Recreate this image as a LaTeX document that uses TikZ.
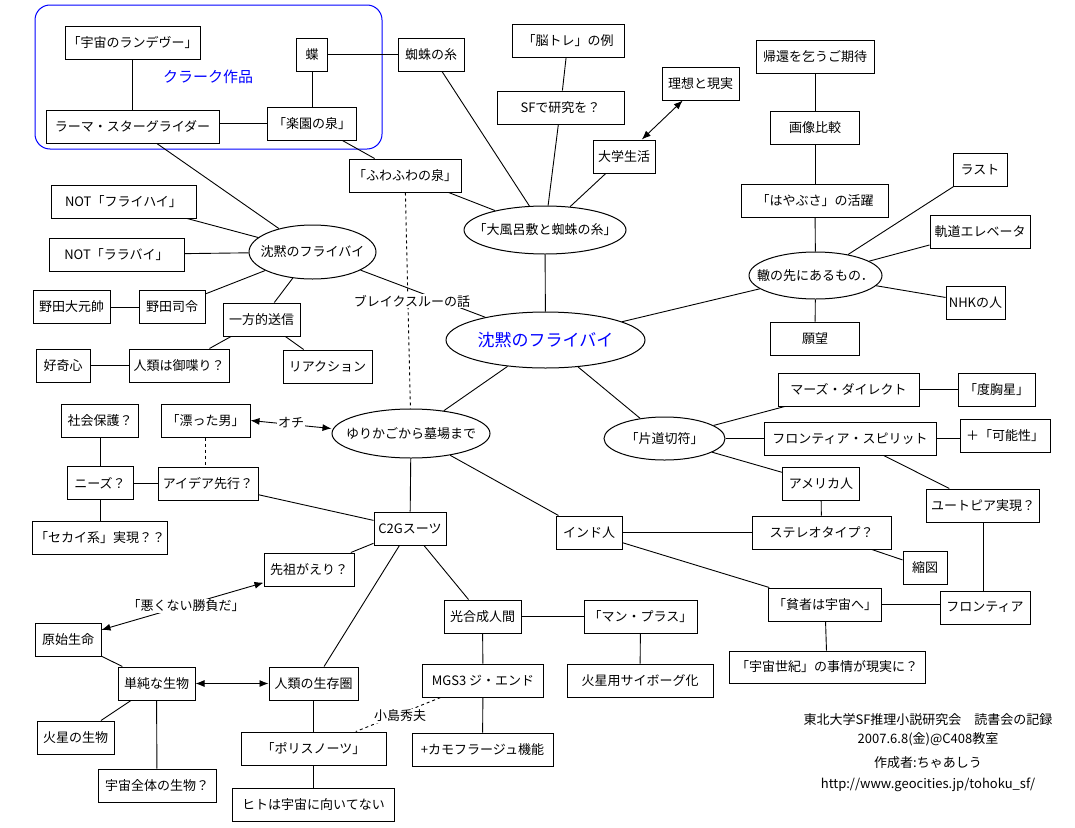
\documentclass[tikz,border=0pt]{standalone}
\usepackage{fontspec}
\setmainfont{Noto Sans CJK JP}
\usetikzlibrary{shapes.geometric,arrows.meta}
\newcommand\ovaltxt[1]{\makebox[0pt]{#1}}
\definecolor{pureblue}{RGB}{0,0,255}
\begin{document}
\begin{tikzpicture}[x=1pt,y=-1pt,
  every node/.style={font=\fontsize{13pt}{15pt}\selectfont, inner sep=0pt},
  box/.style={draw, line width=1pt, rectangle, minimum height=33pt},
  oval/.style={draw, line width=1pt, ellipse},
  conn/.style={line width=0.9pt},
  dashconn/.style={line width=0.9pt, dash pattern=on 3pt off 3pt},
  dbl/.style={line width=0.9pt, {Latex[length=9pt,width=7pt]}-{Latex[length=9pt,width=7pt]}},
  lbl/.style={fill=white, inner sep=1pt},
  foot/.style={font=\fontsize{13pt}{15pt}\selectfont},
]
\fill[white] (0,0) rectangle (1075,827);
\useasboundingbox (0,0) rectangle (1075,827);

% Clarke group
\node[draw=pureblue, line width=1pt, rounded corners=15pt, minimum width=347pt, minimum height=144pt] (clarke) at (208.5,77) {};
\node[text=pureblue, font=\fontsize{15pt}{17pt}\selectfont] (clarkelbl) at (208,77) {クラーク作品};

% boxes
\node[box, minimum width=135pt] (uchu) at (132.5,42.5) {「宇宙のランデヴー」};
\node[box, minimum width=173pt] (rama) at (132.5,126.5) {ラーマ・スターグライダー};
\node[box, minimum width=89pt] (rakuen) at (312,123.5) {「楽園の泉」};
\node[box, minimum width=31pt] (chou) at (312,54.5) {蝶};
\node[box, minimum width=66pt] (kumo) at (431,54.5) {蜘蛛の糸};
\node[box, minimum width=112pt] (fuwa) at (405,175.5) {「ふわふわの泉」};
\node[box, minimum width=145pt] (notfh) at (123.5,201.5) {NOT「フライハイ」};
\node[box, minimum width=135pt] (notll) at (116.5,254.5) {NOT「ララバイ」};
\node[box, minimum width=66pt] (nodas) at (172,307) {野田司令};
\node[box, minimum width=77pt] (nodag) at (71.5,307) {野田大元帥};
\node[box, minimum width=77pt] (ippou) at (261.5,319.5) {一方的送信};
\node[box, minimum width=100pt] (jinrui) at (179,365.5) {人類は御喋り？};
\node[box, minimum width=54pt] (kouki) at (63,365.5) {好奇心};
\node[box, minimum width=89pt] (react) at (327.5,366.5) {リアクション};
\node[box, minimum width=112pt] (nouto) at (568,40.5) {「脳トレ」の例};
\node[box, minimum width=127pt] (sf) at (560.5,107.5) {SFで研究を？};
\node[box, minimum width=77pt] (riso) at (700.5,83.5) {理想と現実};
\node[box, minimum width=62pt] (daigaku) at (624,156.5) {大学生活};
\node[box, minimum width=118pt] (kikan) at (815,56.5) {帰還を乞うご期待};
\node[box, minimum width=89pt] (gazou) at (815,127.5) {画像比較};
\node[box, minimum width=147pt] (haya) at (815,200.5) {「はやぶさ」の活躍};
\node[box, minimum width=54pt] (last) at (980,169.5) {ラスト};
\node[box, minimum width=100pt] (kidou) at (980,231.5) {軌道エレベータ};
\node[box, minimum width=59pt] (nhk) at (975.5,302.5) {NHKの人};
\node[box, minimum width=89pt] (ganbou) at (815,338.5) {願望};
\node[box, minimum width=141pt] (mars) at (848.5,389.5) {マーズ・ダイレクト};
\node[box, minimum width=77pt] (dokyo) at (996.5,389.5) {「度胸星」};
\node[box, minimum width=172pt] (spirit) at (850,438.5) {フロンティア・スピリット};
\node[box, minimum width=90pt] (kanou) at (1005,435.5) {＋「可能性」};
\node[box, minimum width=77pt] (america) at (821,483.5) {アメリカ人};
\node[box, minimum width=113pt] (utopia) at (983,505.5) {ユートピア実現？};
\node[box, minimum width=139pt] (stereo) at (821.5,532.5) {ステレオタイプ？};
\node[box, minimum width=66pt] (india) at (589,532.5) {インド人};
\node[box, minimum width=44pt] (shukuzu) at (925,567.5) {縮図};
\node[box, minimum width=113pt] (hinja) at (825,604.5) {「貧者は宇宙へ」};
\node[box, minimum width=90pt] (frontier) at (985,607.5) {フロンティア};
\node[box, minimum width=196pt, minimum height=32pt] (seiki) at (827,667) {「宇宙世紀」の事情が現実に？};
\node[box, minimum width=77pt] (shakai) at (100,420.5) {社会保護？};
\node[box, minimum width=89pt] (drift) at (205.5,420.5) {「漂った男」};
\node[box, minimum width=66pt] (needs) at (100,483) {ニーズ？};
\node[box, minimum width=100pt] (idea) at (208,483.5) {アイデア先行？};
\node[box, minimum width=135pt] (sekai) at (100,537.5) {「セカイ系」実現？？};
\node[box, minimum width=72pt] (c2g) at (410,528.5) {C2Gスーツ};
\node[box, minimum width=90pt] (senzo) at (309,569.5) {先祖がえり？};
\node[box, minimum width=66pt] (genshi) at (68,639.5) {原始生命};
\node[box, minimum width=77pt] (tanjun) at (156.5,683.5) {単純な生物};
\node[box, minimum width=89pt] (seizon) at (313.5,683.5) {人類の生存圏};
\node[box, minimum width=77pt] (kasei) at (75.5,737.5) {火星の生物};
\node[box, minimum width=118pt] (zentai) at (157,785.5) {宇宙全体の生物？};
\node[box, minimum width=145pt] (polis) at (313.5,748.5) {「ポリスノーツ」};
\node[box, minimum width=162pt] (hito) at (313.5,804.5) {ヒトは宇宙に向いてない};
\node[box, minimum width=77pt] (kougou) at (482.5,616.5) {光合成人間};
\node[box, minimum width=121pt] (mgs) at (483,680.5) {MGS3 ジ・エンド};
\node[box, minimum width=141pt] (camo) at (482.5,749.5) {+カモフラージュ機能};
\node[box, minimum width=113pt] (manplus) at (640.5,616.5) {「マン・プラス」};
\node[box, minimum width=146pt] (kaseiyo) at (640,680.5) {火星用サイボーグ化};

% ellipses
\node[oval, minimum width=127pt, minimum height=54pt] (left) at (312.5,252) {\ovaltxt{沈黙のフライバイ}};
\node[oval, minimum width=162pt, minimum height=48pt] (oburo) at (545,230) {\ovaltxt{「大風呂敷と蜘蛛の糸」}};
\node[oval, minimum width=199pt, minimum height=56pt] (main) at (545.5,340) {\ovaltxt{\textcolor{pureblue}{\fontsize{17pt}{19pt}\selectfont 沈黙のフライバイ}}};
\node[oval, minimum width=133pt, minimum height=47pt] (wadachi) at (815.5,275.5) {\ovaltxt{轍の先にあるもの．}};
\node[oval, minimum width=121pt, minimum height=43pt] (katamichi) at (664.5,438.5) {\ovaltxt{「片道切符」}};
\node[oval, minimum width=158pt, minimum height=49pt] (yuri) at (411,433.5) {\ovaltxt{ゆりかごから墓場まで}};

% connectors
\draw[conn] (chou) -- (kumo);
\draw[conn] (chou) -- (rakuen);
\draw[conn] (uchu) -- (rama);
\draw[conn] (rakuen.west) -- (rakuen.west -| rama.east);
\draw[conn] (rakuen) -- (fuwa);
\draw[conn] (fuwa) -- (oburo);
\draw[conn] (kumo) -- (oburo);
\draw[conn] (nouto) -- (sf);
\draw[conn] (sf) -- (oburo);
\draw[conn] (daigaku) -- (oburo);
\draw[dbl] (daigaku) -- (riso);
\draw[conn] (kikan) -- (gazou);
\draw[conn] (gazou) -- (haya);
\draw[conn] (haya) -- (wadachi);
\draw[conn] (wadachi) -- (ganbou);
\draw[conn] (wadachi) -- (last);
\draw[conn] (wadachi) -- (kidou);
\draw[conn] (wadachi) -- (nhk);
\draw[conn] (main) -- (wadachi);
\draw[conn] (main) -- (oburo);
\draw[conn] (main) -- (yuri);
\draw[conn] (main) -- (katamichi);
\draw[conn] (left) -- (main);
\draw[conn] (rama) -- (left);
\draw[conn] (notfh) -- (left);
\draw[conn] (notll) -- (left);
\draw[conn] (nodas) -- (left);
\draw[conn] (nodag) -- (nodas);
\draw[conn] (left) -- (ippou);
\draw[conn] (ippou) -- (jinrui);
\draw[conn] (ippou) -- (react);
\draw[conn] (kouki) -- (jinrui);
\draw[dashconn] (fuwa) -- (yuri);
\draw[dbl] (drift.east) -- ([yshift=5pt]yuri.west);
\draw[dashconn] (drift.south) -- (drift.south |- idea.north);
\draw[conn] (shakai) -- (needs);
\draw[conn] (needs) -- (sekai);
\draw[conn] (needs.east) -- (needs.east -| idea.west);
\draw[conn] (idea) -- (c2g);
\draw[conn] (yuri) -- (c2g);
\draw[conn] (yuri) -- (india);
\draw[conn] (c2g) -- (senzo);
\draw[conn] (c2g) -- (seizon);
\draw[conn] (c2g) -- (kougou);
\draw[dbl] (senzo) -- (genshi);
\draw[conn] (genshi) -- (tanjun);
\draw[dbl] (tanjun) -- (seizon);
\draw[conn] (tanjun) -- (kasei);
\draw[conn] (tanjun) -- (zentai);
\draw[conn] (seizon) -- (polis);
\draw[conn] (polis) -- (hito);
\draw[conn] (kougou) -- (mgs);
\draw[conn] (mgs) -- (camo);
\draw[conn] (kougou) -- (manplus);
\draw[conn] (manplus) -- (kaseiyo);
\draw[dashconn] (mgs) -- (polis);
\draw[conn] (katamichi) -- (mars);
\draw[conn] (katamichi) -- (spirit);
\draw[conn] (katamichi) -- (america);
\draw[conn] (mars) -- (dokyo);
\draw[conn] (spirit.east) -- (spirit.east -| kanou.west);
\draw[conn] (spirit) -- (utopia);
\draw[conn] (america) -- (stereo);
\draw[conn] (india) -- (stereo);
\draw[conn] (stereo) -- (shukuzu);
\draw[conn] (india) -- (hinja);
\draw[conn] (utopia.south) -- (utopia.south |- frontier.north);
\draw[conn] (hinja.east) -- (hinja.east -| frontier.west);
\draw[conn] (hinja) -- (seiki);

% connector labels
\node[lbl] (break) at (412,301) {ブレイクスルーの話};
\node[lbl] (ochi) at (291,423) {オチ};
\node[lbl] (warukunai) at (186,606) {「悪くない勝負だ」};
\node[lbl] (kojima) at (400,716) {小島秀夫};

% footer
\node[foot] (f1) at (928,720) {東北大学SF推理小説研究会　読書会の記録};
\node[foot] (f2) at (928,739) {2007.6.8(金)@C408教室};
\node[foot] (f3) at (928,763) {作成者:ちゃあしう};
\node[foot] (f4) at (928,785) {http://www.geocities.jp/tohoku\_sf/};
\end{tikzpicture}
\end{document}
